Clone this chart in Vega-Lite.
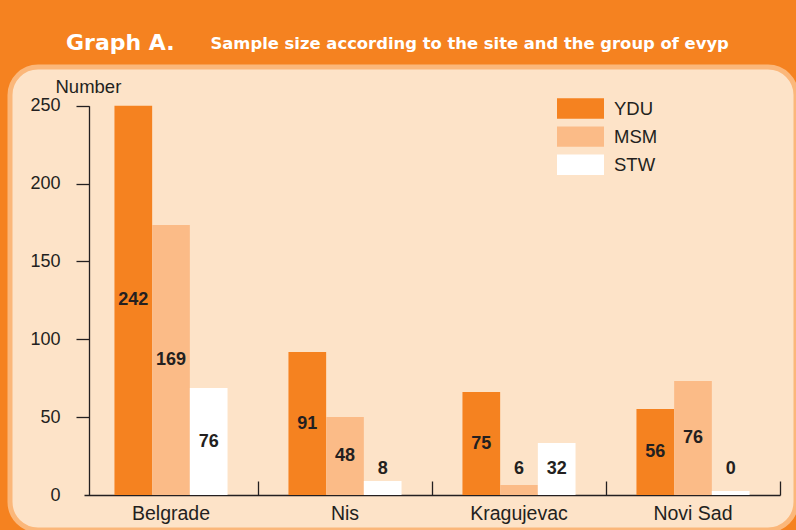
{
  "$schema": "https://vega.github.io/schema/vega-lite/v6.json",
  "width": 786,
  "height": 463,
  "autosize": {"type": "none"},
  "padding": {"left": 10, "top": 67, "right": 0, "bottom": 0},
  "background": "#f58220",
  "title": {
    "text": "Graph A.",
    "anchor": "start",
    "frame": "group",
    "dx": 56,
    "dy": 37,
    "offset": 0,
    "baseline": "alphabetic",
    "font": "DejaVu Sans",
    "fontSize": 22,
    "fontWeight": "bold",
    "color": "#ffffff"
  },
  "data": {
    "values": [
      {"site": "Belgrade", "group": "YDU", "value": 250, "label": 242},
      {"site": "Belgrade", "group": "MSM", "value": 173.4, "label": 169},
      {"site": "Belgrade", "group": "STW", "value": 68.7, "label": 76},
      {"site": "Nis", "group": "YDU", "value": 91.8, "label": 91},
      {"site": "Nis", "group": "MSM", "value": 50.1, "label": 48},
      {"site": "Nis", "group": "STW", "value": 9.0, "label": 8},
      {"site": "Kragujevac", "group": "YDU", "value": 66.1, "label": 75},
      {"site": "Kragujevac", "group": "MSM", "value": 6.4, "label": 6},
      {"site": "Kragujevac", "group": "STW", "value": 33.4, "label": 32},
      {"site": "Novi Sad", "group": "YDU", "value": 55.2, "label": 56},
      {"site": "Novi Sad", "group": "MSM", "value": 73.2, "label": 76},
      {"site": "Novi Sad", "group": "STW", "value": 2.6, "label": 0}
    ]
  },
  "transform": [
    {"calculate": "max(datum.value / 2, 16.5)", "as": "labelPos"}
  ],
  "encoding": {
    "x": {
      "field": "site",
      "type": "nominal",
      "sort": ["Belgrade", "Nis", "Kragujevac", "Novi Sad"],
      "scale": {"type": "band", "range": [74, 770], "paddingInner": 0, "paddingOuter": 0},
      "axis": {
        "orient": "bottom",
        "offset": -35,
        "title": "Sample size according to the site and the group of evyp",
        "titleX": 200,
        "titleY": -447,
        "titleAlign": "left",
        "titleBaseline": "alphabetic",
        "titleFont": "DejaVu Sans",
        "titleFontSize": 16.4,
        "titleFontWeight": "bold",
        "titleColor": "#ffffff",
        "labelAngle": 0,
        "labelFont": "Liberation Sans",
        "labelFontSize": 19.5,
        "labelColor": "#231f20",
        "labelPadding": 23,
        "tickSize": -14,
        "tickColor": "#231f20",
        "tickWidth": 1.3,
        "bandPosition": 1,
        "tickExtra": false,
        "domainColor": "#231f20",
        "domainWidth": 1.3,
        "grid": false
      }
    },
    "xOffset": {
      "field": "group",
      "type": "nominal",
      "sort": ["YDU", "MSM", "STW"],
      "scale": {"paddingInner": 0, "paddingOuter": 0.808}
    }
  },
  "layer": [
    {
      "mark": {"type": "bar"},
      "encoding": {
        "y": {
          "field": "value",
          "type": "quantitative",
          "scale": {"domain": [0, 250], "range": [428, 38.7], "nice": false, "zero": true},
          "axis": {
            "orient": "left",
            "offset": -79,
            "values": [0, 50, 100, 150, 200, 250],
            "title": "Number",
            "titleAngle": 0,
            "titleX": -34,
            "titleY": 25,
            "titleAlign": "left",
            "titleBaseline": "alphabetic",
            "titleFont": "Liberation Sans",
            "titleFontSize": 18.5,
            "titleFontWeight": "normal",
            "titleColor": "#231f20",
            "labelFont": "Liberation Sans",
            "labelFontSize": 18,
            "labelColor": "#231f20",
            "labelPadding": 16,
            "tickSize": 13,
            "tickColor": "#231f20",
            "tickWidth": 1.3,
            "tickOpacity": {"condition": {"test": "datum.value === 0", "value": 0}, "value": 1},
            "domainColor": "#231f20",
            "domainWidth": 1.3,
            "grid": false
          }
        },
        "color": {
          "field": "group",
          "type": "nominal",
          "sort": ["YDU", "MSM", "STW"],
          "scale": {"domain": ["YDU", "MSM", "STW"], "range": ["#f58220", "#fbbb87", "#ffffff"]},
          "legend": {
            "orient": "none",
            "legendX": 560.5,
            "legendY": 31.5,
            "title": null,
            "padding": 0,
            "symbolType": "M-2.35,-1.02H2.35V1.02H-2.35Z",
            "symbolSize": 400,
            "symbolStrokeWidth": 0,
            "symbolOpacity": 1,
            "labelOffset": 23.5,
            "rowPadding": 6.1,
            "labelFont": "Liberation Sans",
            "labelFontSize": 18.5,
            "labelColor": "#231f20"
          }
        }
      }
    },
    {
      "mark": {
        "type": "text",
        "font": "Liberation Sans",
        "fontSize": 18,
        "fontWeight": "bold",
        "color": "#231f20",
        "baseline": "middle",
        "align": "center"
      },
      "encoding": {
        "y": {"field": "labelPos", "type": "quantitative"},
        "text": {"field": "label", "type": "quantitative"}
      }
    }
  ],
  "config": {
    "view": {"fill": "#fde3c8", "stroke": "#fbb77a", "strokeWidth": 5, "cornerRadius": 28}
  }
}
